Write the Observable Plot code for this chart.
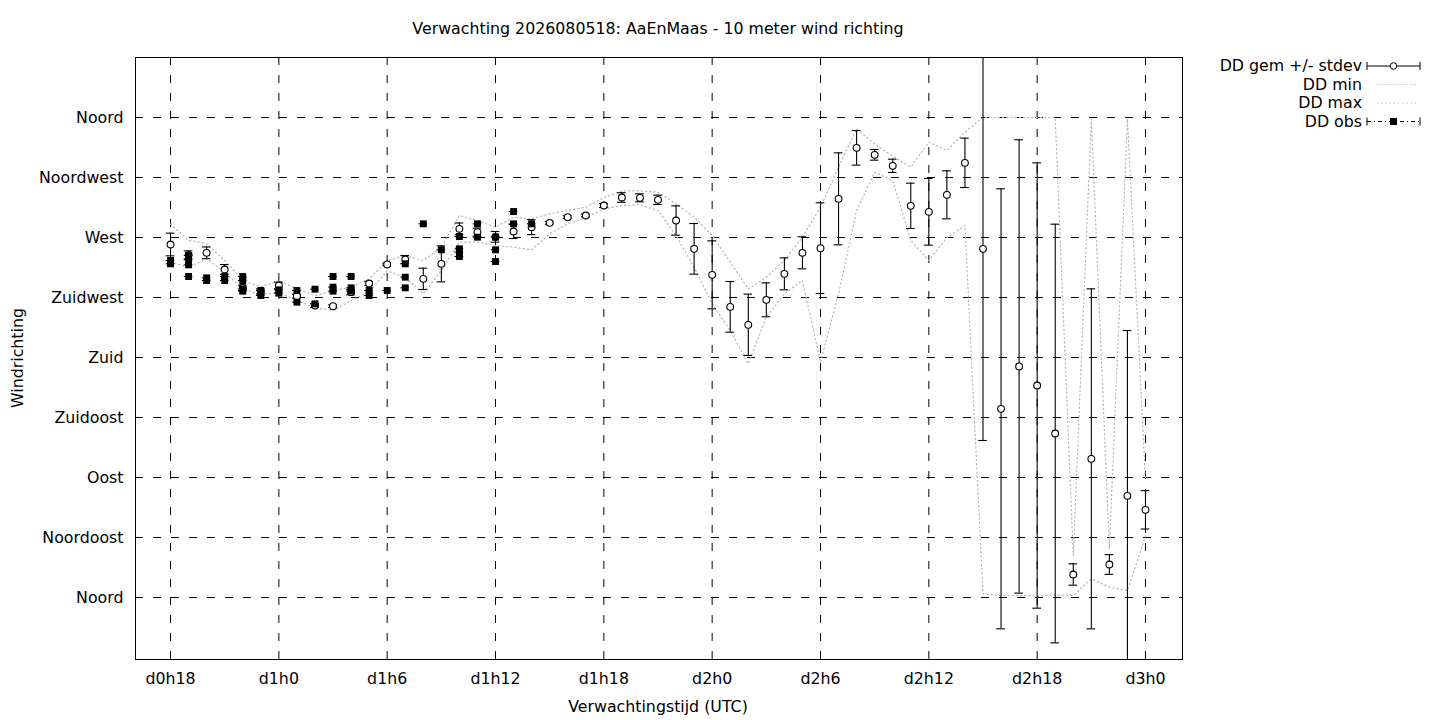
<!DOCTYPE html>
<html><head><meta charset="utf-8">
<script src="https://cdn.jsdelivr.net/npm/d3@7"></script>
<script src="https://cdn.jsdelivr.net/npm/@observablehq/plot@0.6"></script>
<style>
body{margin:0;background:#fff;font-family:"DejaVu Sans";}
#wrap{position:relative;width:1440px;height:720px;overflow:hidden;background:#fff;}
.t{position:absolute;font-size:15.8px;color:#000;white-space:nowrap;line-height:18px;}
</style></head><body><div id="wrap"></div>
<script>
// forecast hours (hours since d0h0)
const fcHours = [18,19,20,21,22,23,24,25,26,27,28,29,30,31,32,33,34,35,36,37,38,39,40,41,42,43,44,45,46,47,48,49,50,51,52,53,54,55,56,57,58,59,60,61,62,63,64,65,66,67,68,69,70,71,72];
const fcMean = [264.75,257,258.5,246,232.3,229.5,234,226,219,218.5,229,235.5,249.8,253.5,239,250.25,276.5,274,270.5,274.5,277.75,281,285.25,286.5,294,300,299.75,298.25,282.75,261.5,242,218,204.5,223.25,242.75,258.5,262,299,337.25,332,323.75,293.75,289.25,302,326,261.5,141.5,173.3,159,123,17.25,104,24.75,76.25,65.75];
const fcSd = [8.5,3,4.4,3.7,2,2,2.5,1.5,1.5,1,2,1.5,1,3,8,13.5,4.4,3,4,5.25,5.6,1,1,1,1.5,3.6,3,3.5,11,19,25.5,19,23,12.7,12,12,34,34.5,13,4,5,17,25,18,18.5,143.75,165,170,167,157,8,127.5,7.4,124,14.4];
const fcMin = [251.5,247.75,254,244,231.5,227,229,222.75,217.25,215.25,222.75,229,245,240,227.75,245.25,266.5,266.5,264,262.75,260.75,272.75,280.25,284.75,291.5,294,294.5,290.25,271.5,247.75,220.25,200.25,175.25,210.25,227.75,237.75,176.5,227.75,290.25,319,312.75,267.75,252.75,270,279,2.75,1.5,1.5,1,2,1.5,14,7.75,5.25,46];
const fcMax = [280,268,265.25,252.75,237.75,233,237.75,231.5,226.5,230,232.7,239,252.75,256.5,252.75,262.75,286.5,282.75,277.75,285.25,284,287.75,290.25,292.75,300,305,305,304,295.25,285.25,271.5,251.5,231.5,240.25,252.75,270.25,292.75,322.75,351.5,340,331,322.75,341.5,335.25,349,360,360,360,360,360,31.5,359,36.75,359,88];

// observations
const obsHours = [18,18,19,19,19,19,20,20,21,21,22,22,22,22,23,23,24,24,25,25,26,26,27,27,27,28,28,28,29,29,30,31,31,31,32,33,34,34,34,34,35,35,36,36,36,37,37,38];
const obsDir = [252.75,250.25,256.5,253.25,249.5,240.75,239.75,237.75,240.75,237.75,240.75,237.75,231.5,229.75,230.25,226.5,230.75,228.25,230.25,221.5,231.25,220.25,240.75,232.75,229.75,240.75,232.25,229.75,230.25,226.5,230.25,250.25,240.25,232.25,280.25,260.75,270.75,261.5,259,255.75,280.25,270.25,270.25,260.75,252,289.5,280.25,280.25];

// ticks
const xTickHours = [18,24,30,36,42,48,54,60,66,72];
const xTickLabels = ["d0h18","d1h0","d1h6","d1h12","d1h18","d2h0","d2h6","d2h12","d2h18","d3h0"];
const yTickVals = [0,45,90,135,180,225,270,315,360];
const yTickLabels = ["Noord","Noordoost","Oost","Zuidoost","Zuid","Zuidwest","West","Noordwest","Noord"];

const titleText = "Verwachting 2026080518: AaEnMaas - 10 meter wind richting";
const xLabel = "Verwachtingstijd (UTC)";
const yLabel = "Windrichting";
const legendLabels = ["DD gem +/- stdev","DD min","DD max","DD obs"];

const fc = fcHours.map((h,i)=>({h, mean:fcMean[i], sd:fcSd[i], min:fcMin[i], max:fcMax[i]}));
const obs = obsHours.map((h,i)=>({h, dir:obsDir[i]}));

const capHalf = 0.24;
const dotted = {stroke:"#b4b4b4", strokeWidth:1.2, strokeDasharray:"1.2,3"};

const chart = Plot.plot({
  width:1440, height:720,
  marginLeft:135, marginRight:258, marginTop:57, marginBottom:61,
  style:{fontFamily:"DejaVu Sans", fontSize:"15.8px", color:"black", background:"white", overflow:"visible"},
  x:{domain:[16.06,74.05], ticks:xTickHours, tickFormat:d=>xTickLabels[xTickHours.indexOf(d)], tickSize:0, tickPadding:13, label:null},
  y:{domain:[-46.5,405], ticks:yTickVals, tickFormat:d=>yTickLabels[yTickVals.indexOf(d)], tickSize:0, tickPadding:12, label:null},
  marks:[
    Plot.ruleY(yTickVals, {stroke:"black", strokeWidth:1, strokeDasharray:"8,10"}),
    Plot.ruleX(xTickHours, {stroke:"black", strokeWidth:1, strokeDasharray:"8,10"}),
    Plot.line(fc, {x:"h", y:"min", ...dotted, clip:true}),
    Plot.line(fc, {x:"h", y:"max", ...dotted, clip:true}),
    Plot.ruleX(fc, {x:"h", y1:d=>d.mean-d.sd, y2:d=>d.mean+d.sd, stroke:"black", strokeWidth:1.1, clip:true}),
    Plot.ruleY(fc, {y:d=>d.mean+d.sd, x1:d=>d.h-capHalf, x2:d=>d.h+capHalf, stroke:"black", strokeWidth:1.1, clip:true}),
    Plot.ruleY(fc, {y:d=>d.mean-d.sd, x1:d=>d.h-capHalf, x2:d=>d.h+capHalf, stroke:"black", strokeWidth:1.1, clip:true}),
    Plot.dot(fc, {x:"h", y:"mean", r:3.4, fill:"white", stroke:"black", strokeWidth:1.1}),
    Plot.ruleY(obs, {y:"dir", x1:d=>d.h-capHalf, x2:d=>d.h+capHalf, stroke:"black", strokeWidth:1}),
    Plot.dot(obs, {x:"h", y:"dir", symbol:"square", r:3.9, fill:"black", stroke:null}),
    Plot.frame({stroke:"black", strokeWidth:1})
  ]
});

const wrap = document.getElementById("wrap");
chart.style.position = "absolute";
chart.style.left = "0px"; chart.style.top = "0px";
wrap.appendChild(chart);

function addText(txt, x, y, opts={}) {
  const d = document.createElement("div");
  d.className = "t";
  d.textContent = txt;
  d.style.left = x + "px"; d.style.top = y + "px";
  d.style.transform = opts.transform || "translate(-50%,-50%)";
  wrap.appendChild(d);
  return d;
}
addText(titleText, 658, 29);
addText(xLabel, 658, 707);
addText(yLabel, 18, 358, {transform:"translate(-50%,-50%) rotate(-90deg)"});

// legend
const legendY = [66, 84.5, 103, 121.5];
legendLabels.forEach((l,i)=>{
  addText(l, 1362, legendY[i], {transform:"translate(-100%,-50%)"});
});
const lsvg = d3.select(wrap).append("svg")
  .attr("width", 80).attr("height", 90)
  .style("position","absolute").style("left","1360px").style("top","50px");
const lx0 = 7, lx1 = 60, lxm = 33.5;
const ry = legendY.map(v=>v-50);
// row 1
lsvg.append("line").attr("x1",lx0).attr("x2",lx1).attr("y1",ry[0]).attr("y2",ry[0]).attr("stroke","black");
[lx0,lx1].forEach(x=>lsvg.append("line").attr("x1",x).attr("x2",x).attr("y1",ry[0]-4).attr("y2",ry[0]+4).attr("stroke","black"));
lsvg.append("circle").attr("cx",lxm).attr("cy",ry[0]).attr("r",3.3).attr("fill","white").attr("stroke","black");
// rows 2,3
[1,2].forEach(i=>lsvg.append("line").attr("x1",lx0+10).attr("x2",lx1-2).attr("y1",ry[i]).attr("y2",ry[i])
  .attr("stroke","#b4b4b4").attr("stroke-width",1.2).attr("stroke-dasharray","1.2,3"));
// row 4
lsvg.append("line").attr("x1",lx0).attr("x2",lx1).attr("y1",ry[3]).attr("y2",ry[3]).attr("stroke","black").attr("stroke-dasharray","4,3,1,3");
[lx0,lx1].forEach(x=>lsvg.append("line").attr("x1",x).attr("x2",x).attr("y1",ry[3]-4).attr("y2",ry[3]+4).attr("stroke","black"));
lsvg.append("rect").attr("x",lxm-3.5).attr("y",ry[3]-3.5).attr("width",7).attr("height",7).attr("fill","black");
</script></body></html>
